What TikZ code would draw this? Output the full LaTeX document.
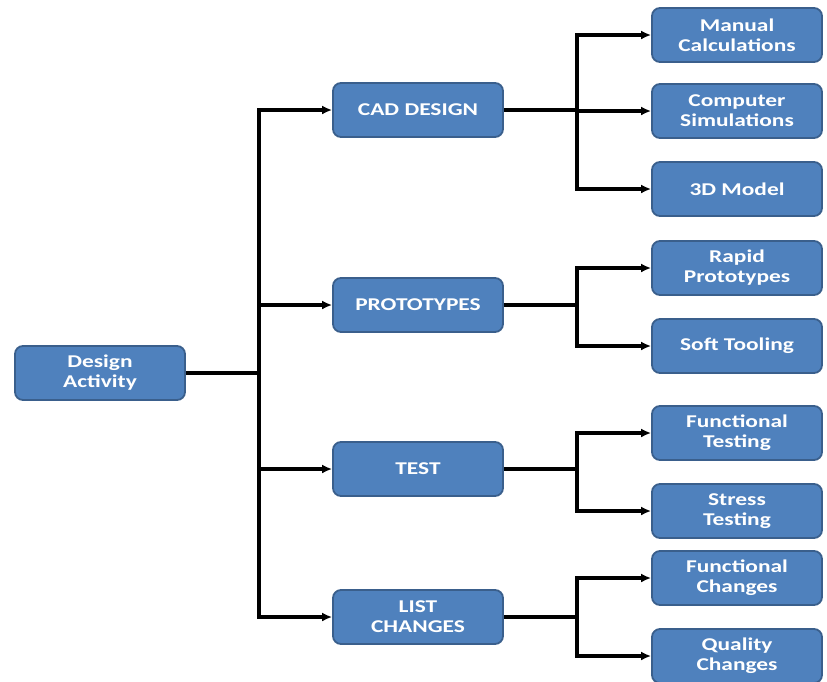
\documentclass[tikz,border=0pt]{standalone}
\usepackage{fontspec}
\setmainfont{Carlito}
\newfontfamily\boxfont[FakeStretch=1.3]{Carlito}
\usetikzlibrary{arrows.meta}
\definecolor{boxfill}{HTML}{4F81BD}
\definecolor{boxline}{HTML}{3A5F8C}
\begin{document}
\begin{tikzpicture}[x=1pt,y=-1pt,
  box/.style={draw=boxline, line width=1.8pt, fill=boxfill, rounded corners=8pt,
    minimum width=170pt, minimum height=54pt, text=white, align=center,
    font=\boxfont\fontsize{18}{20}\selectfont\bfseries, inner sep=0pt},
  conn/.style={line width=3.2pt, black, line cap=rect},
  arr/.style={line width=3.2pt, black, -{Latex[length=10pt,width=9pt]}}]
\useasboundingbox (0,0) rectangle (827,681);
% left
\node[box] (da) at (100,373) {Design\\Activity};
\node[box] (cad) at (418,110) {CAD DESIGN};
\node[box] (pro) at (418,305) {PROTOTYPES};
\node[box] (tst) at (418,469) {TEST};
\node[box] (lst) at (418,617) {LIST\\CHANGES};
% right
\node[box] (man) at (737,35) {Manual\\Calculations};
\node[box] (sim) at (737,111) {Computer\\Simulations};
\node[box] (mod) at (737,189) {3D Model};
\node[box] (rap) at (737,268) {Rapid\\Prototypes};
\node[box] (sft) at (737,346) {Soft Tooling};
\node[box] (fnt) at (737,433) {Functional\\Testing};
\node[box] (str) at (737,511) {Stress\\Testing};
\node[box] (fnc) at (737,578) {Functional\\Changes};
\node[box] (qch) at (737,656) {Quality\\Changes};
% trunks
\coordinate (t0) at (259,373);
\draw[line width=3.2pt] (da.east) -- (t0);
\draw[conn] (259,110) -- (259,617);
\foreach \n in {cad,pro,tst,lst}{
  \draw[arr] (259,0 |- \n.west) -- (\n.west);
}
% branches
\coordinate (b1) at (577,110);
\draw[line width=3.2pt] (cad.east) -- (b1);
\draw[conn] (577,35) -- (577,189);
\coordinate (b2) at (577,305);
\draw[line width=3.2pt] (pro.east) -- (b2);
\draw[conn] (577,268) -- (577,346);
\coordinate (b3) at (577,469);
\draw[line width=3.2pt] (tst.east) -- (b3);
\draw[conn] (577,433) -- (577,511);
\coordinate (b4) at (577,617);
\draw[line width=3.2pt] (lst.east) -- (b4);
\draw[conn] (577,578) -- (577,656);
\foreach \n in {man,sim,mod,rap,sft,fnt,str,fnc,qch}{
  \draw[arr] (577,0 |- \n.west) -- (\n.west);
}
\end{tikzpicture}
\end{document}
